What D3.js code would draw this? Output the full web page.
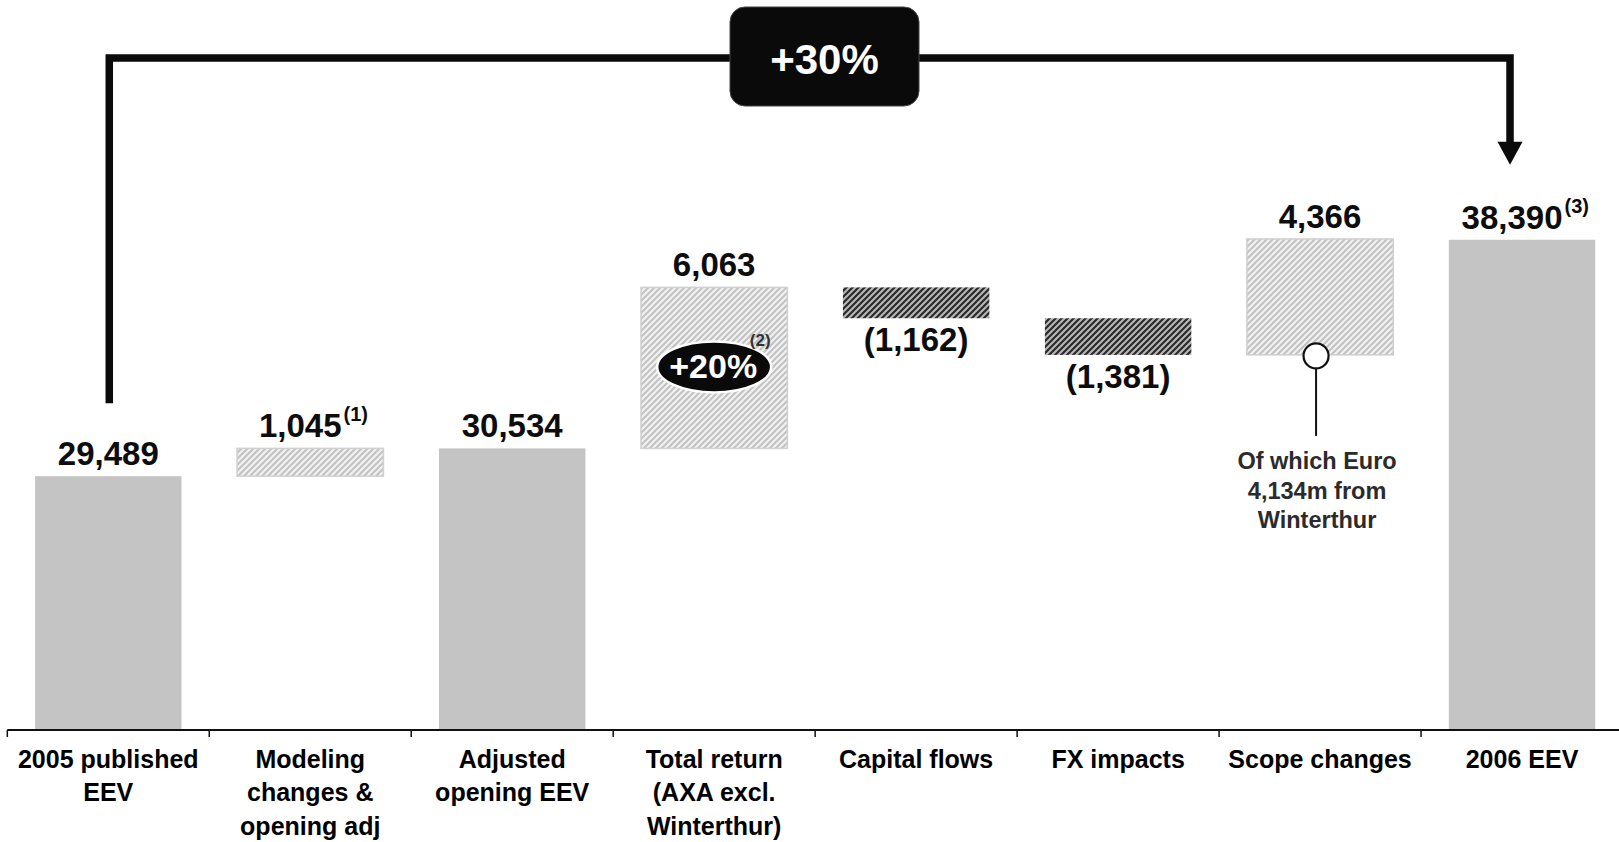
<!DOCTYPE html>
<html>
<head>
<meta charset="utf-8">
<script src="https://cdn.jsdelivr.net/npm/d3@7"></script>
<style>
  html, body { margin: 0; padding: 0; background: #fff; }
  svg { display: block; font-family: "Liberation Sans", Arial, sans-serif; font-weight: bold; }
</style>
</head>
<body>
<svg id="chart" width="1619" height="842"></svg>
<script>
// ---- data ----
const categories = ["2005 published EEV", "Modeling changes & opening adj", "Adjusted opening EEV",
  "Total return (AXA excl. Winterthur)", "Capital flows", "FX impacts", "Scope changes", "2006 EEV"];
const categoryLines = [["2005 published", "EEV"], ["Modeling", "changes &", "opening adj"],
  ["Adjusted", "opening EEV"], ["Total return", "(AXA excl.", "Winterthur)"],
  ["Capital flows"], ["FX impacts"], ["Scope changes"], ["2006 EEV"]];
const kinds = ["total", "delta", "total", "delta", "delta", "delta", "delta", "total"];
const values = [29489, 1045, 30534, 6063, -1162, -1381, 4366, 38390];
const valueLabels = ["29,489", "1,045", "30,534", "6,063", "(1,162)", "(1,381)", "4,366", "38,390"];
const footnotes = ["", "(1)", "", "", "", "", "", "(3)"];
const growthLabel = "+30%";
const returnLabel = "+20%";
const returnNote = "(2)";
const scopeNoteLines = ["Of which Euro", "4,134m from", "Winterthur"];

// ---- build waterfall ----
let running = 0;
const rows = categories.map((c, i) => {
  let lo, hi;
  if (kinds[i] === "total") { lo = null; hi = values[i]; running = values[i]; }
  else { const s = running; running += values[i]; lo = Math.min(s, running); hi = Math.max(s, running); }
  return { cat: c, lines: categoryLines[i], kind: kinds[i], value: values[i], lo, hi,
           label: valueLabels[i], note: footnotes[i] };
});

const svg = d3.select("#chart");
const x = d3.scaleBand().domain(categories).range([7.3, 1623]).padding(0);
const y = d3.scaleLinear().domain([19930, 40000]).range([730, 197]);
const bw = x.bandwidth() * 0.725;
const bx = c => x(c) + (x.bandwidth() - bw) / 2;
const cx = c => x(c) + x.bandwidth() / 2;

// patterns
const defs = svg.append("defs");
function hatch(id, bg, fg, sw) {
  const p = defs.append("pattern").attr("id", id).attr("patternUnits", "userSpaceOnUse")
    .attr("width", 6).attr("height", 6);
  p.append("rect").attr("width", 6).attr("height", 6).attr("fill", bg);
  p.append("path").attr("d", "M-1,1 l2,-2 M0,6 l6,-6 M5,7 l2,-2")
    .attr("stroke", fg).attr("stroke-width", sw);
}
hatch("lightHatch", "#f1f1f1", "#c2c2c2", 2);
hatch("darkHatch", "#b8b8b8", "#2a2a2a", 2.2);

// bars
rows.forEach(r => {
  if (r.kind === "total") {
    svg.append("rect").attr("x", bx(r.cat)).attr("width", bw)
      .attr("y", y(r.hi)).attr("height", y.range()[0] - y(r.hi)).attr("fill", "#c4c4c4");
  } else {
    const neg = r.value < 0;
    svg.append("rect").attr("x", bx(r.cat)).attr("width", bw)
      .attr("y", y(r.hi)).attr("height", y(r.lo) - y(r.hi))
      .attr("fill", neg ? "url(#darkHatch)" : "url(#lightHatch)")
      .attr("stroke", neg ? "none" : "#d0d0d0").attr("stroke-width", 1.5);
  }
});

// value labels
rows.forEach(r => {
  const neg = r.kind === "delta" && r.value < 0;
  const ty = neg ? y(r.lo) + 33 : y(r.hi) - 11;
  const t = svg.append("text").attr("x", cx(r.cat) - (r.note ? 10 : 0)).attr("y", ty)
    .attr("text-anchor", "middle").attr("font-size", 33).attr("fill", "#0d0d0d").text(r.label);
  if (r.note) {
    const w = t.node().getComputedTextLength();
    svg.append("text").attr("x", cx(r.cat) - 10 + w / 2 + 2).attr("y", ty - 16)
      .attr("font-size", 20).attr("fill", "#0d0d0d").text(r.note);
  }
});

// axis
const axisY = y.range()[0];
svg.append("line").attr("x1", x.range()[0]).attr("x2", 1619).attr("y1", axisY).attr("y2", axisY)
  .attr("stroke", "#111").attr("stroke-width", 2);
categories.forEach(c => {
  svg.append("line").attr("x1", x(c)).attr("x2", x(c)).attr("y1", axisY).attr("y2", axisY + 7)
    .attr("stroke", "#111").attr("stroke-width", 1.5);
});
rows.forEach(r => {
  const t = svg.append("text").attr("text-anchor", "middle").attr("font-size", 25).attr("fill", "#000");
  r.lines.forEach((ln, k) => {
    t.append("tspan").attr("x", cx(r.cat)).attr("y", axisY + 38 + k * 33.4).text(ln);
  });
});

// bracket with arrow
const first = rows[0], last = rows[rows.length - 1];
const lx = cx(first.cat) + 1, rx = cx(last.cat) - 12;
const topY = 58;
const bottomY = y(first.hi) - 73;
const tipY = y(last.hi) - 75;
svg.append("path")
  .attr("d", `M${lx},${bottomY} L${lx},${topY} L${rx},${topY} L${rx},${tipY - 22}`)
  .attr("fill", "none").attr("stroke", "#0a0a0a").attr("stroke-width", 7.5).attr("stroke-linejoin", "miter");
svg.append("path")
  .attr("d", `M${rx - 12.5},${tipY - 23} L${rx + 12.5},${tipY - 23} L${rx},${tipY} Z`)
  .attr("fill", "#0a0a0a");

// +30% box
const boxCx = 824.5;
svg.append("rect").attr("x", boxCx - 94.5).attr("y", 7).attr("width", 189).attr("height", 99)
  .attr("rx", 15).attr("fill", "#0a0a0a").attr("stroke", "#444").attr("stroke-width", 1);
svg.append("text").attr("x", boxCx).attr("y", 74).attr("text-anchor", "middle")
  .attr("font-size", 42).attr("fill", "#fff").text(growthLabel);

// +20% ellipse on total return bar
const tr = rows[3];
const ecx = cx(tr.cat), ecy = (y(tr.hi) + y(tr.lo)) / 2 - 1;
svg.append("ellipse").attr("cx", ecx).attr("cy", ecy).attr("rx", 57).attr("ry", 25.5)
  .attr("fill", "#0a0a0a").attr("stroke", "#fff").attr("stroke-width", 2.5);
svg.append("text").attr("x", ecx - 1).attr("y", ecy + 11.5).attr("text-anchor", "middle")
  .attr("font-size", 34).attr("fill", "#fff").text(returnLabel);
svg.append("text").attr("x", ecx + 46).attr("y", ecy - 21).attr("text-anchor", "middle")
  .attr("font-size", 17).attr("fill", "#333").text(returnNote);

// scope changes annotation
const sc = rows[6];
const scx = cx(sc.cat) - 4, scy = y(sc.lo) + 1;
svg.append("line").attr("x1", scx).attr("x2", scx).attr("y1", scy + 13).attr("y2", scy + 80)
  .attr("stroke", "#111").attr("stroke-width", 2);
svg.append("circle").attr("cx", scx).attr("cy", scy).attr("r", 12.5)
  .attr("fill", "#fff").attr("stroke", "#111").attr("stroke-width", 2.2);
const nt = svg.append("text").attr("text-anchor", "middle").attr("font-size", 23.5).attr("fill", "#2b2b2b");
scopeNoteLines.forEach((ln, k) => {
  nt.append("tspan").attr("x", scx + 1).attr("y", 469 + k * 29.5).text(ln);
});
</script>
</body>
</html>
